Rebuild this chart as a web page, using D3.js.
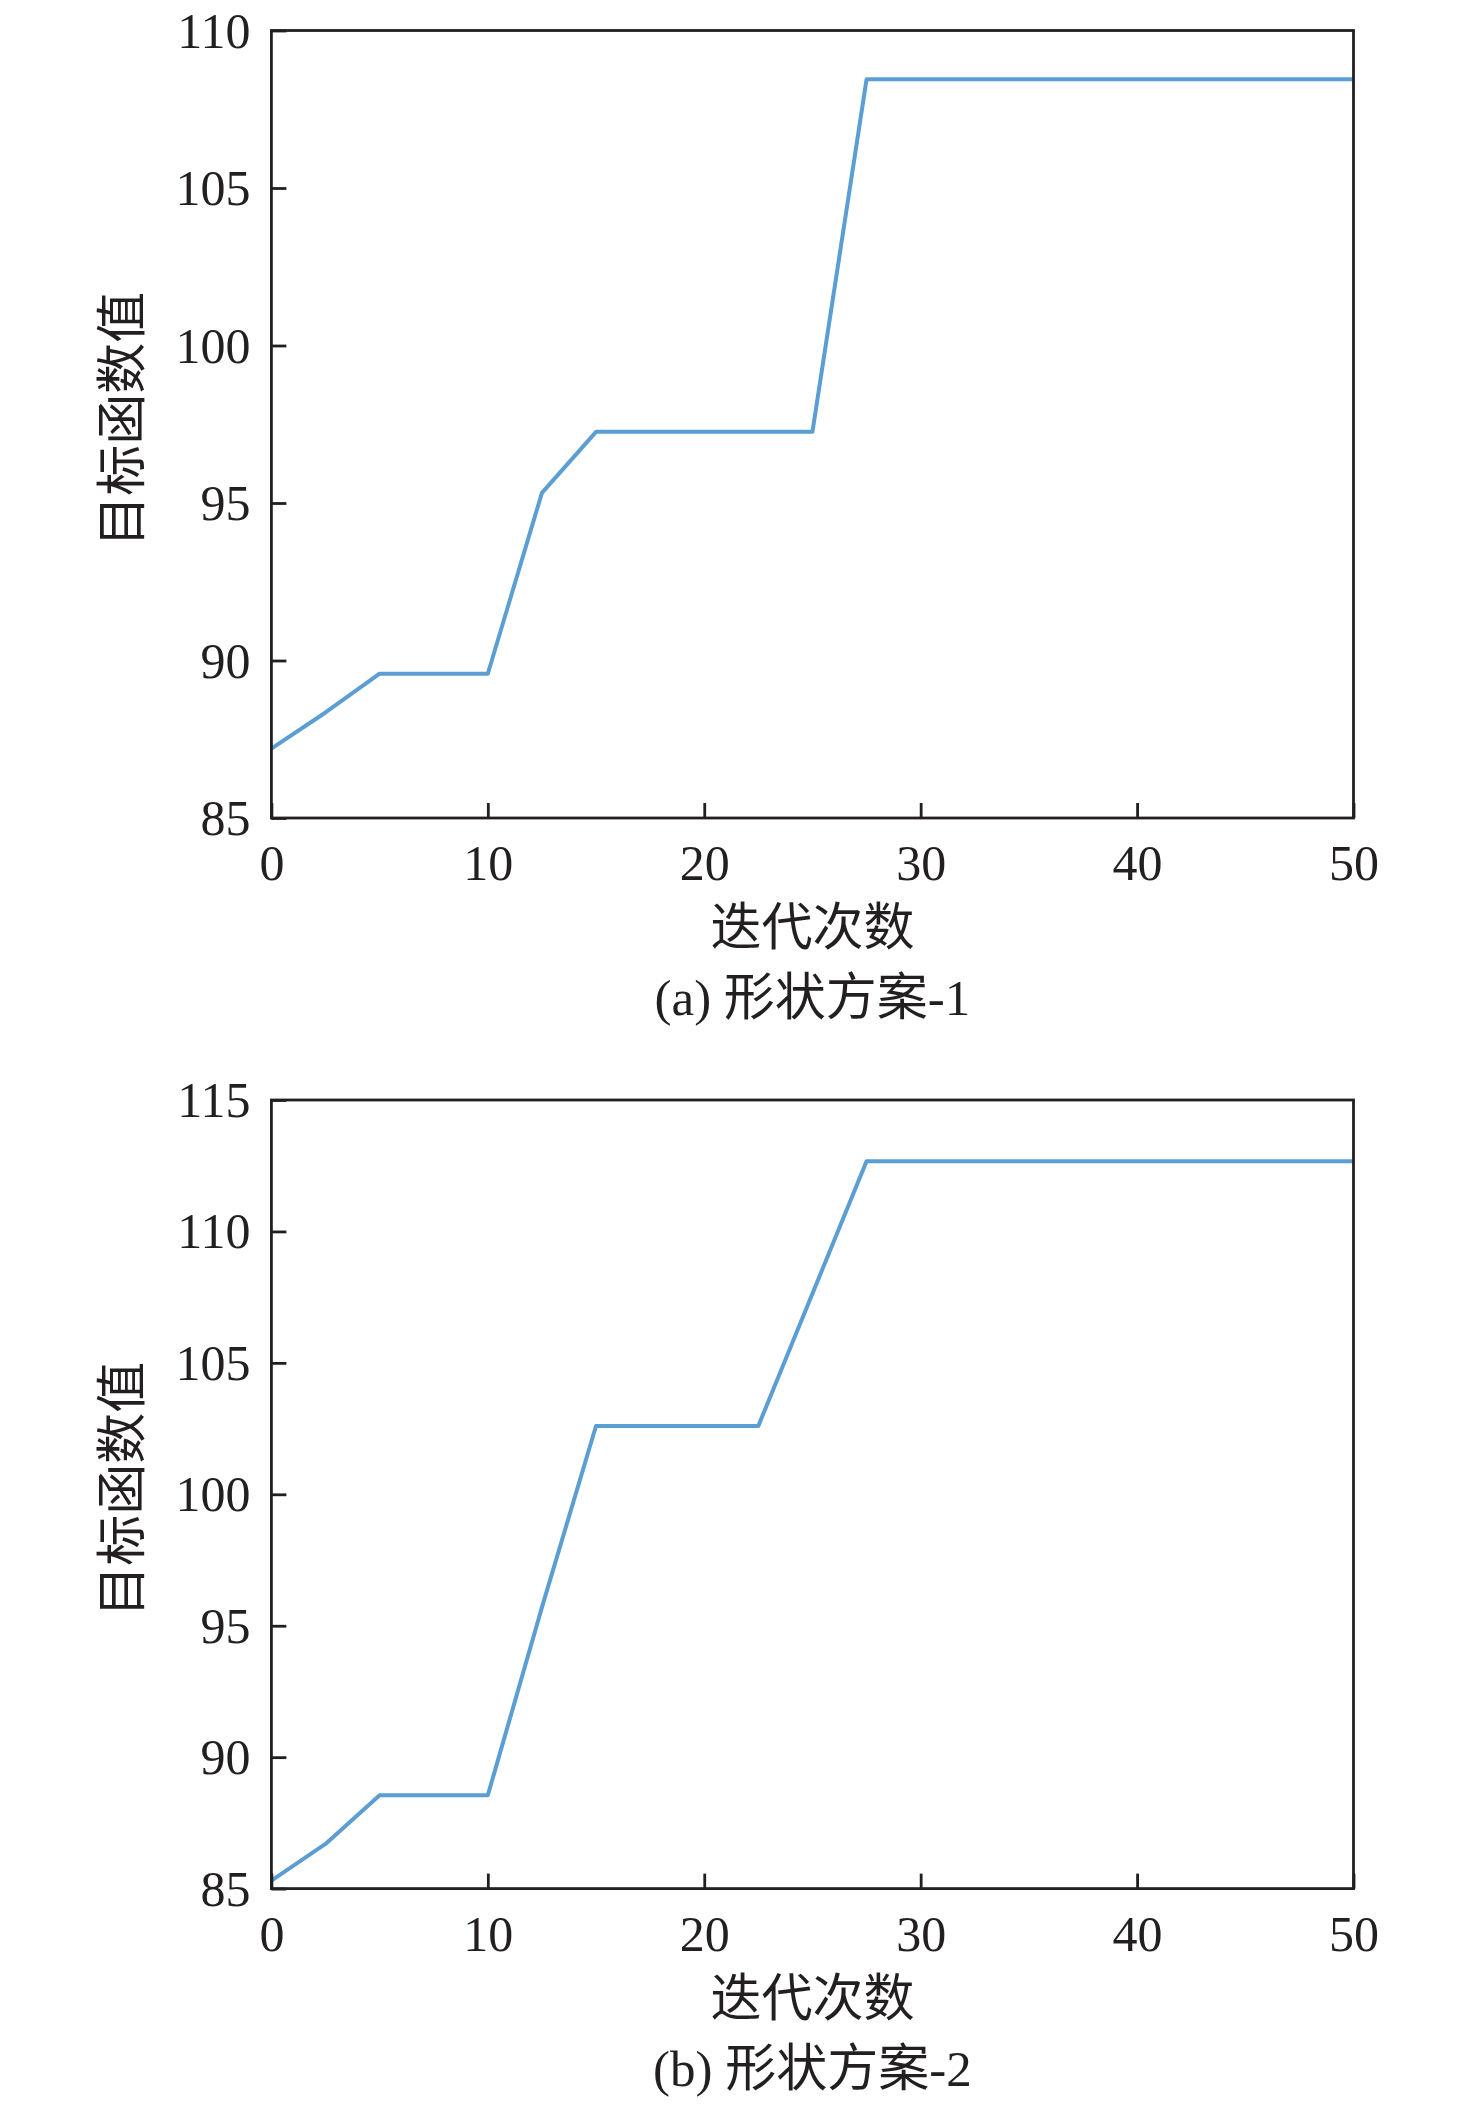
<!DOCTYPE html>
<html><head><meta charset="utf-8">
<script src="https://cdn.jsdelivr.net/npm/d3@7"></script>
<style>
html,body{margin:0;padding:0;background:#fff;}
svg{display:block;}
</style></head>
<body>
<svg id="chart" width="1476" height="2106"></svg>
<script>
// ---- data ----
const iterA = [0, 2.5, 5, 10, 12.5, 15, 25, 27.5, 50];
const valueA = [87.2, 88.35, 89.58, 89.58, 95.32, 97.26, 97.26, 108.45, 108.45];
const iterB = [0, 2.5, 5, 10, 12.5, 15, 22.5, 27.5, 50];
const valueB = [85.3, 86.7, 88.55, 88.55, 95.7, 102.6, 102.6, 112.67, 112.67];
const xTicks = [0, 10, 20, 30, 40, 50];
const yTicksA = [85, 90, 95, 100, 105, 110];
const yTicksB = [85, 90, 95, 100, 105, 110, 115];
const xTitle = "迭代次数";
const yTitle = "目标函数值";
const captions = ["(a) 形状方案-1", "(b) 形状方案-2"];

const svg = d3.select("#chart");
const numFont = "'Liberation Serif','Times New Roman',serif";
const cjkFont = "'Liberation Serif','Noto Sans CJK SC',serif";
const axisColor = "#231f20";
const lineColor = "#5b9ed3";

function panel(cfg) {
  const {left, right, top, bottom, xs, ys, yTicks, yDomain, caption} = cfg;
  const x = d3.scaleLinear().domain([0, 50]).range([left, right]);
  const y = d3.scaleLinear().domain(yDomain).range([bottom, top]);
  const g = svg.append("g");

  // data line
  const line = d3.line().x(d => x(d[0])).y(d => y(d[1]));
  g.append("path")
    .datum(xs.map((v, i) => [v, ys[i]]))
    .attr("d", line)
    .attr("fill", "none")
    .attr("stroke", lineColor)
    .attr("stroke-width", 4)
    .attr("stroke-linejoin", "round");

  // x axis
  const xa = g.append("g").attr("transform", `translate(0,${bottom})`)
    .call(d3.axisBottom(x).tickValues(xTicks).tickSizeInner(-15).tickSizeOuter(0).tickFormat(d3.format("d")));
  xa.select(".domain").remove();
  xa.selectAll("line").attr("stroke", axisColor).attr("stroke-width", 2.8);
  xa.selectAll("text").attr("y", 62).attr("dy", 0)
    .attr("font-family", numFont).attr("font-size", 50).attr("fill", axisColor);

  // y axis
  const ya = g.append("g").attr("transform", `translate(${left},0)`)
    .call(d3.axisLeft(y).tickValues(yTicks).tickSizeInner(-15).tickSizeOuter(0).tickFormat(d3.format("d")));
  ya.select(".domain").remove();
  ya.selectAll("line").attr("stroke", axisColor).attr("stroke-width", 2.8);
  ya.selectAll("text").attr("x", -21).attr("dy", "0.33em")
    .attr("font-family", numFont).attr("font-size", 50).attr("fill", axisColor);

  // frame
  g.append("rect")
    .attr("x", left).attr("y", top)
    .attr("width", right - left).attr("height", bottom - top)
    .attr("fill", "none").attr("stroke", axisColor).attr("stroke-width", 2.8);

  // titles
  g.append("text")
    .attr("x", (left + right) / 2).attr("y", bottom + 127)
    .attr("text-anchor", "middle")
    .attr("font-family", cjkFont).attr("font-size", 51).attr("fill", axisColor)
    .text(xTitle);
  const yc = (top + bottom) / 2 - 5;
  g.append("text")
    .attr("transform", `translate(140,${yc}) rotate(-90)`)
    .attr("text-anchor", "middle")
    .attr("font-family", cjkFont).attr("font-size", 51).attr("fill", axisColor)
    .text(yTitle);
  g.append("text")
    .attr("x", (left + right) / 2).attr("y", bottom + 197)
    .attr("text-anchor", "middle")
    .attr("font-family", cjkFont).attr("font-size", 51).attr("fill", axisColor)
    .text(caption);
}

panel({left: 271.4, right: 1353.5, top: 30.5, bottom: 818,
  xs: iterA, ys: valueA, yTicks: yTicksA, yDomain: [85, 110], caption: captions[0]});
panel({left: 271.4, right: 1353.5, top: 1100, bottom: 1888.6,
  xs: iterB, ys: valueB, yTicks: yTicksB, yDomain: [85, 115], caption: captions[1]});
</script>
</body></html>
